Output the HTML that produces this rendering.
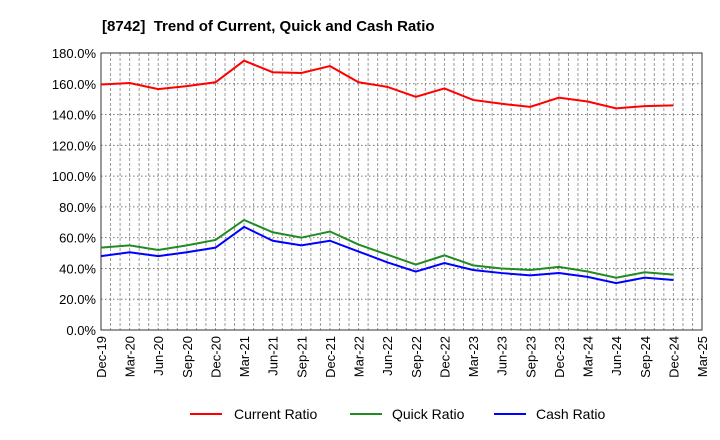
<!DOCTYPE html>
<html><head><meta charset="utf-8"><style>body{margin:0;background:#fff}svg{display:block;font-family:"Liberation Sans",sans-serif}</style></head>
<body>
<svg id="c" width="720" height="440" xmlns="http://www.w3.org/2000/svg">
<text x="102" y="31" font-size="15" font-weight="bold" fill="#000">[8742]&#160; Trend of Current, Quick and Cash Ratio</text>
<g id="grid"></g><g id="axes"></g><g id="series"></g>
<g>
<line x1="190" y1="414" x2="222" y2="414" stroke="#f00" stroke-width="2"/><text x="234" y="419" font-size="14">Current Ratio</text>
<line x1="350" y1="414" x2="382" y2="414" stroke="#228b22" stroke-width="2"/><text x="392" y="419" font-size="14">Quick Ratio</text>
<line x1="494" y1="414" x2="526" y2="414" stroke="#00f" stroke-width="2"/><text x="536" y="419" font-size="14">Cash Ratio</text>
</g>
</svg>
<script>
const categories=["Dec-19","Mar-20","Jun-20","Sep-20","Dec-20","Mar-21","Jun-21","Sep-21","Dec-21","Mar-22","Jun-22","Sep-22","Dec-22","Mar-23","Jun-23","Sep-23","Dec-23","Mar-24","Jun-24","Sep-24","Dec-24","Mar-25"];
const currentRatio=[159.5,160.5,156.5,158.5,161,175,167.5,167,171.5,161,158,151.5,157,149.5,147,145,151,148.5,144,145.5,146];
const quickRatio=[53.5,55,52,55,58.5,71.5,63.5,60,64,55.5,49,42.5,48.5,42,40,39,41,38,34,37.5,36];
const cashRatio=[48,50.5,48,50.5,53.5,67,58,55,58,51,44,38,43.5,39,37,35.5,37,34.5,30.5,34,32.5];
const yTicks=[0,20,40,60,80,100,120,140,160,180];
const L=101,R=702,T=53,B=330,NS="http://www.w3.org/2000/svg";
const xs=i=>L+(R-L)*i/(categories.length-1);
const ys=v=>B-(B-T)*v/180;
function mk(t,a,p){const e=document.createElementNS(NS,t);for(const k in a)e.setAttribute(k,a[k]);p.appendChild(e);return e;}
const g=document.getElementById('grid'),ax=document.getElementById('axes'),s=document.getElementById('series');
for(let m=1;m<(categories.length-1)*3;m++){const x=L+(R-L)*m/((categories.length-1)*3);
const l=mk('line',{x1:x,x2:x,y1:T,y2:B,stroke:'#999','stroke-dasharray':'3,2','stroke-width':1},g);

}
yTicks.forEach(v=>{const y=ys(v);
const l=mk('line',{x1:L,x2:R,y1:y,y2:y,stroke:'#777','stroke-dasharray':'1.5,2.5','stroke-width':1},g);


const t=mk('text',{x:L-5,y:y+5,'text-anchor':'end','font-size':13},ax);t.textContent=v.toFixed(1)+'%';

});
categories.forEach((c,i)=>{const x=xs(i);
const t=mk('text',{transform:`translate(${x+5},${B+6}) rotate(-90)`,'text-anchor':'end','font-size':13},ax);t.textContent=c;

});
const fr=mk('rect',{x:L,y:T,width:R-L,height:B-T,fill:'none',stroke:'#333','stroke-width':1},ax);


[[currentRatio,'#f00','current-ratio-line'],[quickRatio,'#228b22','quick-ratio-line'],[cashRatio,'#00f','cash-ratio-line']].forEach(([d,c,n])=>{
const p=mk('polyline',{points:d.map((v,i)=>xs(i)+','+ys(v)).join(' '),fill:'none',stroke:c,'stroke-width':2},s);

});
</script>
</body></html>
